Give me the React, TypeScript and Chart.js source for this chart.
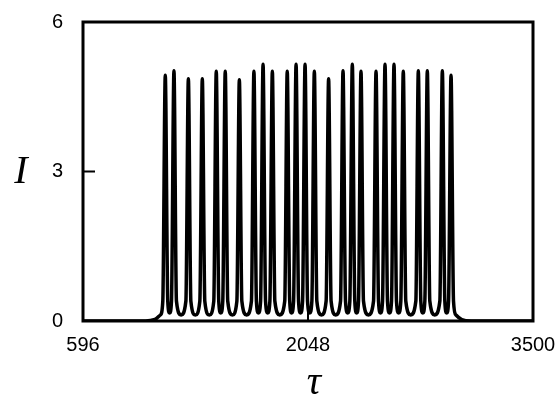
import React, { useEffect, useRef } from "react";
import { Chart, registerables } from "chart.js";

Chart.register(...registerables);

// Sample points of the intensity trace I(τ)
const tauValues: number[] = [
  596, 1000, 1060, 1095,
  1111, 1127, 1143, 1155, 1167, 1183, 1199, 1229,
  1260, 1276, 1292, 1321, 1350, 1366, 1382, 1411,
  1440, 1456, 1472, 1485, 1498, 1514, 1530, 1560,
  1589, 1605, 1621, 1652, 1683, 1699, 1715, 1728,
  1742, 1758, 1774, 1788, 1802, 1818, 1834, 1866,
  1898, 1914, 1930, 1942, 1955, 1971, 1987, 2000,
  2013, 2029, 2045, 2059, 2073, 2089, 2105, 2135,
  2165, 2181, 2197, 2227, 2258, 2274, 2290, 2304,
  2318, 2334, 2350, 2362, 2374, 2390, 2406, 2438,
  2471, 2487, 2503, 2516, 2529, 2545, 2561, 2574,
  2587, 2603, 2619, 2633, 2647, 2663, 2679, 2711,
  2744, 2760, 2776, 2789, 2802, 2818, 2834, 2866,
  2899, 2915, 2931, 2943, 2955, 2971, 2987, 3003,
  3040, 3100, 3500,
];

const intensityValues: number[] = [
  0, 0, 0.03, 0.12,
  0.4, 4.93, 0.4, 0.16, 0.4, 5.02, 0.4, 0.12,
  0.4, 4.86, 0.4, 0.12, 0.4, 4.86, 0.4, 0.12,
  0.4, 5.01, 0.4, 0.16, 0.4, 5.01, 0.4, 0.12,
  0.4, 4.84, 0.4, 0.12, 0.4, 5.01, 0.4, 0.16,
  0.4, 5.15, 0.4, 0.16, 0.4, 5.01, 0.4, 0.12,
  0.4, 5.01, 0.4, 0.16, 0.4, 5.15, 0.4, 0.16,
  0.4, 5.15, 0.4, 0.16, 0.4, 5.01, 0.4, 0.12,
  0.4, 4.86, 0.4, 0.12, 0.4, 5.02, 0.4, 0.16,
  0.4, 5.15, 0.4, 0.16, 0.4, 5.01, 0.4, 0.12,
  0.4, 5.01, 0.4, 0.16, 0.4, 5.15, 0.4, 0.16,
  0.4, 5.15, 0.4, 0.16, 0.4, 5.01, 0.4, 0.12,
  0.4, 5.02, 0.4, 0.16, 0.4, 5.02, 0.4, 0.12,
  0.4, 5.02, 0.4, 0.16, 0.4, 4.93, 0.4, 0.12,
  0.03, 0, 0,
];

const xTicks: number[] = [596, 2048, 3500];
const yTicks: number[] = [0, 3, 6];
const xTitle = "τ";
const yTitle = "I";

const framePlugin = {
  id: "frame",
  afterDatasetsDraw(chart: any) {
    const { ctx, chartArea } = chart;
    const { left, right, top, bottom } = chartArea;
    ctx.save();
    ctx.strokeStyle = "#000";
    ctx.lineWidth = 3;
    ctx.strokeRect(left, top, right - left, bottom - top);
    // inward ticks at interior tick values
    ctx.lineWidth = 2;
    const ys = chart.scales.y;
    const xs = chart.scales.x;
    ctx.beginPath();
    for (const v of yTicks) {
      if (v === ys.min || v === ys.max) continue;
      const py = ys.getPixelForValue(v);
      ctx.moveTo(left, py);
      ctx.lineTo(left + 12, py);
    }
    for (const v of xTicks) {
      if (v === xs.min || v === xs.max) continue;
      const px = xs.getPixelForValue(v);
      ctx.moveTo(px, bottom);
      ctx.lineTo(px, bottom - 12);
    }
    ctx.stroke();
    // axis titles
    ctx.fillStyle = "#000";
    ctx.textAlign = "center";
    ctx.textBaseline = "middle";
    ctx.font = "italic 40px 'Liberation Serif', 'Times New Roman', serif";
    ctx.fillText(yTitle, left - 62, (top + bottom) / 2 + 1);
    ctx.fillText(xTitle, (left + right) / 2 + 6, bottom + 62);
    ctx.restore();
  },
};

export default function App() {
  const ref = useRef<HTMLCanvasElement | null>(null);
  useEffect(() => {
    if (!ref.current) return;
    const points = tauValues.map((t, i) => ({ x: t, y: intensityValues[i] }));
    const chart = new Chart(ref.current, {
      type: "line",
      data: {
        datasets: [
          {
            data: points,
            borderColor: "#000",
            borderWidth: 3.5,
            pointRadius: 0,
            cubicInterpolationMode: "monotone",
            fill: false,
            borderJoinStyle: "round",
          },
        ],
      },
      options: {
        responsive: false,
        animation: false,
        layout: { padding: { left: 0, top: 22, right: 24, bottom: 0 } },
        plugins: { legend: { display: false }, tooltip: { enabled: false } },
        scales: {
          x: {
            type: "linear",
            min: 596,
            max: 3500,
            grid: { display: false, drawTicks: false },
            border: { display: false },
            afterBuildTicks: (s: any) => {
              s.ticks = xTicks.map((v) => ({ value: v }));
            },
            afterFit: (s: any) => {
              s.height = 84;
              s.paddingLeft = 0;
              s.paddingRight = 0;
            },
            ticks: {
              color: "#000",
              padding: 12,
              maxRotation: 0,
              autoSkip: false,
              font: { family: "'Liberation Sans', Arial, sans-serif", size: 20 },
              callback: (v: any) => String(v),
            },
          },
          y: {
            min: 0,
            max: 6,
            grid: { display: false, drawTicks: false },
            border: { display: false },
            afterBuildTicks: (s: any) => {
              s.ticks = yTicks.map((v) => ({ value: v }));
            },
            afterFit: (s: any) => {
              s.width = 83;
              s.paddingTop = 0;
              s.paddingBottom = 0;
            },
            ticks: {
              color: "#000",
              padding: 20,
              font: { family: "'Liberation Sans', Arial, sans-serif", size: 20 },
              callback: (v: any) => String(v),
            },
          },
        },
      },
      plugins: [framePlugin],
    });
    return () => chart.destroy();
  }, []);
  return (
    <div style={{ position: "absolute", left: 0, top: 0, width: 557, height: 405, background: "#fff" }}>
      <canvas ref={ref} width={557} height={405} />
    </div>
  );
}
